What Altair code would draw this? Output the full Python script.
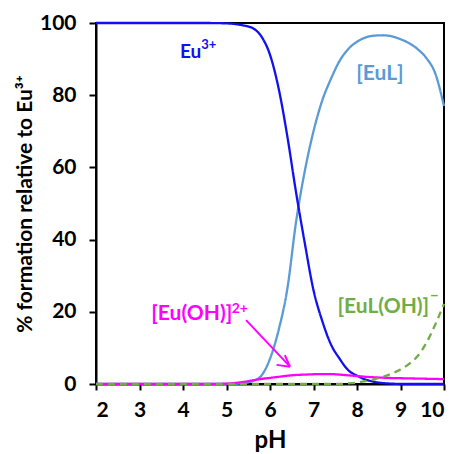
import altair as alt
import pandas as pd

# ---- data ----
ph = [2, 2.5, 3, 3.5, 4, 4.5, 5.0, 5.2, 5.4, 5.6, 5.8, 6.0, 6.2, 6.4, 6.6, 6.8,
      7.0, 7.2, 7.4, 7.6, 7.8, 8.0, 8.2, 8.4, 8.6, 8.8, 9.0, 9.2, 9.4, 9.6, 9.8, 10.0]
eu3 = [100, 100, 100, 100, 100, 100, 99.9, 99.7, 99.3, 98.6, 96.3, 91.2, 81.8, 68.5, 53.0, 39.0,
       26.0, 17.5, 11.0, 7.0, 3.8, 2.3, 1.2, 0.6, 0.25, 0.1, 0, 0, 0, 0, 0, 0]
eul = [0, 0, 0, 0, 0, 0, 0, 0.05, 0.3, 0.8, 2.3, 7.0, 15.0, 26.5, 45.0, 59.0,
       70.0, 78.5, 84.5, 89.5, 92.8, 94.8, 96.0, 96.5, 96.6, 96.3, 95.5, 94.4, 92.7, 90.2, 86.0, 77.0]
euoh = [0, 0, 0, 0, 0, 0, 0.1, 0.3, 0.6, 1.0, 1.4, 1.7, 2.0, 2.3, 2.5, 2.6,
        2.7, 2.75, 2.75, 2.6, 2.4, 2.2, 2.0, 1.85, 1.75, 1.65, 1.6, 1.55, 1.5, 1.45, 1.4, 1.35]
euloh = [0, 0, 0, 0, 0, 0, 0, 0, 0, 0, 0, 0, 0, 0, 0, 0,
         0, 0, 0, 0, 0.2, 0.4, 0.8, 1.3, 2.0, 2.9, 4.0, 5.6, 7.8, 11.5, 16.5, 22.2]

species = ["[EuL]", "Eu3+", "[Eu(OH)]2+", "[EuL(OH)]-"]
colors = ["#5B9BD5", "#1010F0", "#FF00FF", "#70AD47"]
dashes = [[1, 0], [1, 0], [1, 0], [7, 5]]

x_ticks = [2, 3, 4, 5, 6, 7, 8, 9, 10]
y_ticks = [0, 10, 20, 30, 40, 50, 60, 70, 80, 90, 100]

FONT = "Lato"

rows = []
for name, vals in zip(species, [eul, eu3, euoh, euloh]):
    for p, v in zip(ph, vals):
        rows.append({"pH": p, "pct": v, "species": name})
df = pd.DataFrame(rows)

xscale = alt.Scale(domain=[2, 10], nice=False, zero=False)
yscale = alt.Scale(domain=[0, 100], nice=False)

lines = alt.Chart(df).mark_line(strokeWidth=2.3, interpolate="monotone").encode(
    x=alt.X("pH:Q", scale=xscale,
            axis=alt.Axis(values=x_ticks, title="pH", format="d", tickSize=6,
                          labelPadding=9, titlePadding=8, titleFontSize=24)),
    y=alt.Y("pct:Q", scale=yscale,
            axis=alt.Axis(values=y_ticks, title="% formation relative to Eu³⁺",
                          labelExpr="datum.value % 20 == 0 ? datum.label : ''",
                          tickSize=7, labelPadding=13, titlePadding=4, titleFontSize=21)),
    color=alt.Color("species:N", scale=alt.Scale(domain=species, range=colors), legend=None),
    strokeDash=alt.StrokeDash("species:N", scale=alt.Scale(domain=species, range=dashes), legend=None),
    order=alt.Order("pH:Q"),
)

# ---- annotations ----
labels = pd.DataFrame([
    {"pH": 3.93, "pct": 90.3, "text": "Eu", "color": "#1010F0", "size": 19},
    {"pH": 4.42, "pct": 92.8, "text": "3+", "color": "#1010F0", "size": 13},
    {"pH": 7.98, "pct": 84.2, "text": "[EuL]", "color": "#5B9BD5", "size": 21},
    {"pH": 3.27, "pct": 17.7, "text": "[Eu(OH)]", "color": "#FF00FF", "size": 21},
    {"pH": 5.12, "pct": 19.6, "text": "2+", "color": "#FF00FF", "size": 14},
    {"pH": 7.55, "pct": 19.7, "text": "[EuL(OH)]", "color": "#70AD47", "size": 21},
    {"pH": 9.68, "pct": 22.9, "text": "−", "color": "#70AD47", "size": 15},
])
texts = alt.Chart(labels).mark_text(align="left", baseline="alphabetic", font=FONT,
                                     fontWeight="bold").encode(
    x=alt.X("pH:Q", scale=xscale),
    y=alt.Y("pct:Q", scale=yscale),
    text="text:N",
    color=alt.Color("color:N", scale=None),
    size=alt.Size("size:Q", scale=None),
)

arrow = pd.DataFrame([
    {"x1": 5.45, "y1": 17.7, "x2": 6.46, "y2": 4.8},
    {"x1": 6.34, "y1": 8.0, "x2": 6.46, "y2": 4.8},
    {"x1": 6.15, "y1": 5.3, "x2": 6.46, "y2": 4.8},
])
arrows = alt.Chart(arrow).mark_rule(color="#FF00FF", strokeWidth=2).encode(
    x=alt.X("x1:Q", scale=xscale), x2="x2:Q",
    y=alt.Y("y1:Q", scale=yscale), y2="y2:Q",
)

chart = alt.layer(lines, arrows, texts).properties(
    width=348, height=361,
    autosize=alt.AutoSizeParams(type="none"),
    padding={"left": 88, "top": 15, "right": 6, "bottom": 70},
).configure_view(
    stroke="black", strokeWidth=2
).configure_axis(
    grid=False, domainColor="black", domainWidth=2, tickColor="black", tickWidth=2,
    labelFont=FONT, titleFont=FONT, labelFontWeight="bold", titleFontWeight="bold",
    labelFontSize=21, labelColor="black", titleColor="black",
)

chart.save("out.html", embed_options={"renderer": "svg", "actions": False})
